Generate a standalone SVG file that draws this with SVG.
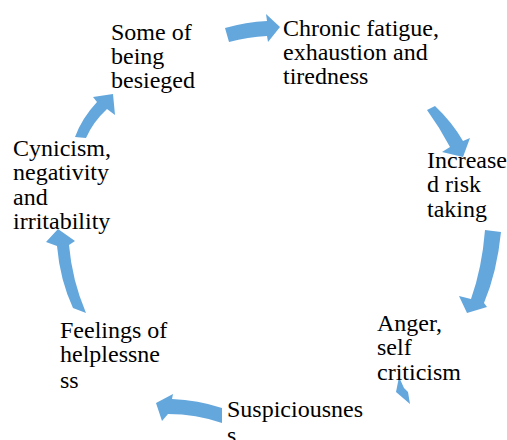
<svg xmlns="http://www.w3.org/2000/svg" width="507" height="440" viewBox="0 0 507 440">
<style>
.a{fill:#64A7DD;stroke:none}
text{font-family:"Liberation Serif","Times New Roman",serif;font-size:24px;fill:#000}
</style>
<rect width="507" height="440" fill="#fff"/>
<g id="connectors">
<path class="a" d="M225,28 Q246,22 267,21 L266,14 L280,27 L268,42 L267,36 Q248,37 229,42 Z"/>
<path class="a" d="M427,110 L435,106 Q452,122 463,141 L470,138 L463,157 L442,152 L450,147 Q440,128 427,110 Z"/>
<path class="a" d="M485,230 L501,232 Q497,272 484,303 L487,307 L467,313 L459,296 L471,299 Q482,268 485,230 Z"/>
<path class="a" d="M399,377 L396,392 L410,404 L408,392 L404,388 Z"/>
<path class="a" d="M222,408 Q198,400 172,399 L173,394 L156,403 L162,421 L168,414 Q196,414 222,423 Z"/>
<path class="a" d="M73,308 Q60,280 57,246 L46,242 L58,229 L75,241 L69,245 Q72,280 86,313 Z"/>
<path class="a" d="M75,137 Q82,118 97,102 L93,97 L113,94 L115,115 L107,109 Q93,122 86,138 Z"/>
</g>
<g id="n1"><text x="111" y="40">Some of</text><text x="111" y="64">being</text><text x="111" y="88">besieged</text></g>
<g id="n2"><text x="283" y="36">Chronic fatigue,</text><text x="283" y="60">exhaustion and</text><text x="283" y="84">tiredness</text></g>
<g id="n3"><text x="427" y="168">Increase</text><text x="427" y="192">d risk</text><text x="427" y="217">taking</text></g>
<g id="n4"><text x="377" y="331">Anger,</text><text x="377" y="355">self</text><text x="377" y="380">criticism</text></g>
<g id="n5"><text x="227" y="417">Suspiciousnes</text><text x="227" y="443">s</text></g>
<g id="n6"><text x="60" y="338">Feelings of</text><text x="60" y="362">helplessne</text><text x="60" y="388">ss</text></g>
<g id="n7"><text x="13" y="156">Cynicism,</text><text x="13" y="180">negativity</text><text x="13" y="205">and</text><text x="13" y="229">irritability</text></g>
</svg>
